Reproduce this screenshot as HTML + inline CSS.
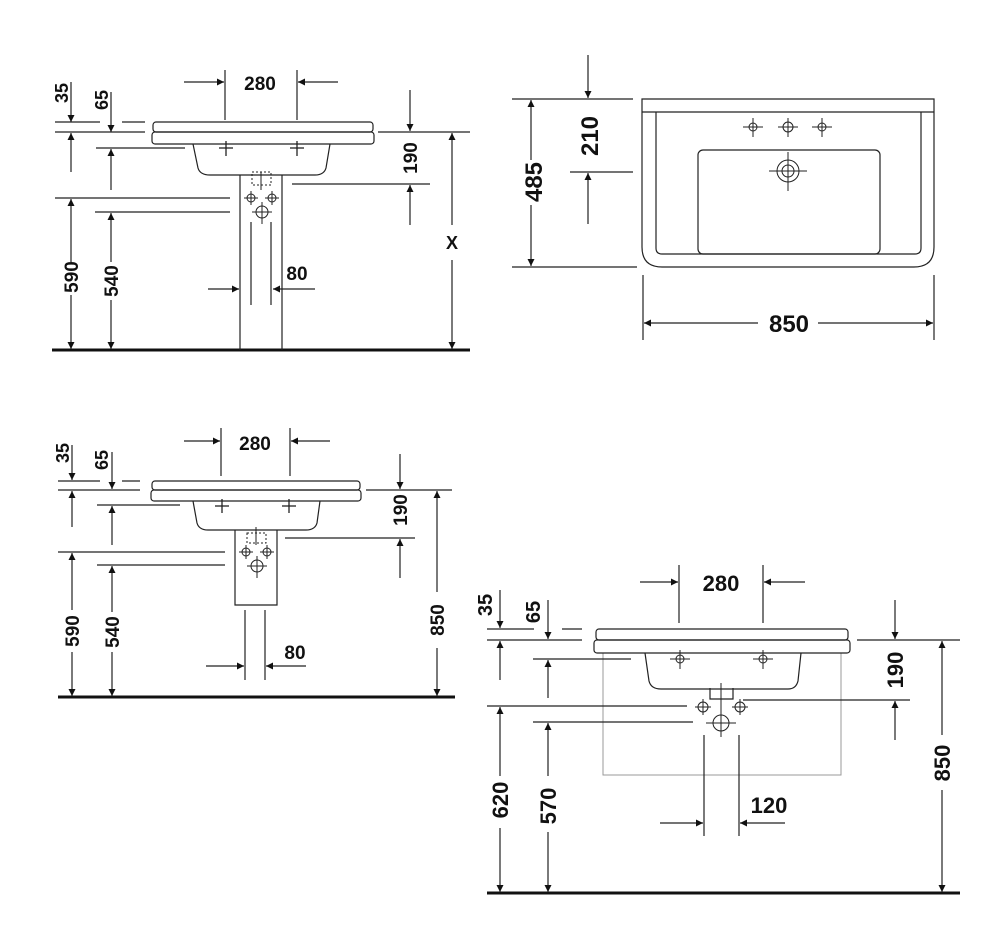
<!DOCTYPE html>
<html><head><meta charset="utf-8"><style>
html,body{margin:0;padding:0;background:#fff;}
svg{display:block}
text{font-family:"Liberation Sans",Arial,sans-serif;font-weight:bold;fill:#111;}
</style></head><body>
<svg width="1000" height="940" viewBox="0 0 1000 940" xmlns="http://www.w3.org/2000/svg">
<defs>
<marker id="a" viewBox="0 0 10 10" refX="10" refY="5" markerWidth="10" markerHeight="7" markerUnits="userSpaceOnUse" orient="auto-start-reverse">
<path d="M0,0 L10,5 L0,10 z" fill="#111"/></marker>
</defs>
<g stroke="#222" stroke-width="1.2" fill="none">

<!-- ===== VIEW 1 ===== -->
<line x1="52" y1="350" x2="470" y2="350" stroke="#111" stroke-width="3"/>
<rect x="153" y="122" width="220" height="10" rx="3"/>
<rect x="152" y="132" width="222" height="12" rx="3"/>
<path d="M193,144 L198,168 Q200,175 210,175 L315,175 Q324,175 326,168 L330,144"/>
<line x1="240" y1="175" x2="240" y2="350"/><line x1="282" y1="175" x2="282" y2="350"/>
<rect x="252" y="172" width="19" height="13" stroke-dasharray="2,2" stroke-width="1"/>
<line x1="261" y1="172" x2="261" y2="190" stroke-width="1"/>
<g stroke-width="1"><circle cx="251" cy="198" r="4"/><line x1="244" y1="198" x2="258" y2="198"/><line x1="251" y1="191" x2="251" y2="205"/>
<circle cx="272" cy="198" r="4"/><line x1="265" y1="198" x2="279" y2="198"/><line x1="272" y1="191" x2="272" y2="205"/>
<circle cx="262" cy="212" r="6"/><line x1="252" y1="212" x2="272" y2="212"/><line x1="262" y1="202" x2="262" y2="224"/></g>
<line x1="251" y1="222" x2="251" y2="305"/><line x1="271" y1="222" x2="271" y2="305"/>
<g stroke-width="1.3"><line x1="219" y1="148" x2="233" y2="148"/><line x1="226" y1="141" x2="226" y2="156"/>
<line x1="290" y1="148" x2="304" y2="148"/><line x1="297" y1="141" x2="297" y2="156"/></g>
<!-- dims -->
<line x1="225" y1="70" x2="225" y2="120"/><line x1="297" y1="70" x2="297" y2="120"/>
<line x1="184" y1="82" x2="224" y2="82" marker-end="url(#a)"/><line x1="338" y1="82" x2="298" y2="82" marker-end="url(#a)"/>
<line x1="55" y1="122" x2="100" y2="122"/><line x1="122" y1="122" x2="145" y2="122"/>
<line x1="55" y1="132" x2="145" y2="132"/>
<line x1="71" y1="82" x2="71" y2="122" marker-end="url(#a)"/>
<line x1="111" y1="92" x2="111" y2="132" marker-end="url(#a)"/>
<line x1="71" y1="172" x2="71" y2="133" marker-end="url(#a)"/>
<line x1="96" y1="148" x2="185" y2="148"/>
<line x1="111" y1="190" x2="111" y2="149" marker-end="url(#a)"/>
<line x1="55" y1="198" x2="230" y2="198"/><line x1="95" y1="212" x2="230" y2="212"/>
<line x1="71" y1="262" x2="71" y2="199" marker-end="url(#a)"/><line x1="71" y1="295" x2="71" y2="349" marker-end="url(#a)"/>
<line x1="111" y1="262" x2="111" y2="213" marker-end="url(#a)"/><line x1="111" y1="300" x2="111" y2="349" marker-end="url(#a)"/>
<line x1="378" y1="132" x2="470" y2="132"/>
<line x1="410" y1="90" x2="410" y2="131" marker-end="url(#a)"/>
<line x1="292" y1="184" x2="430" y2="184"/>
<line x1="410" y1="225" x2="410" y2="185" marker-end="url(#a)"/>
<line x1="452" y1="225" x2="452" y2="133" marker-end="url(#a)"/><line x1="452" y1="260" x2="452" y2="349" marker-end="url(#a)"/>
<line x1="208" y1="289" x2="239" y2="289" marker-end="url(#a)"/><line x1="315" y1="289" x2="273" y2="289" marker-end="url(#a)"/>

<!-- ===== VIEW 2 ===== -->
<path d="M642,99 L934,99 L934,247 Q934,267 914,267 L662,267 Q642,267 642,247 Z"/>
<line x1="642" y1="112" x2="934" y2="112"/>
<path d="M656,112 L656,248 Q656,254 662,254 L915,254 Q921,254 921,248 L921,112"/>
<rect x="698" y="150" width="182" height="104" rx="5"/>
<g stroke-width="1">
<circle cx="753" cy="127" r="4"/><line x1="743" y1="127" x2="763" y2="127"/><line x1="753" y1="118" x2="753" y2="137"/>
<circle cx="788" cy="127" r="5"/><line x1="778" y1="127" x2="798" y2="127"/><line x1="788" y1="118" x2="788" y2="137"/>
<circle cx="822" cy="127" r="4"/><line x1="812" y1="127" x2="832" y2="127"/><line x1="822" y1="118" x2="822" y2="137"/>
<circle cx="788" cy="171" r="11"/><circle cx="788" cy="171" r="6"/><line x1="769" y1="171" x2="807" y2="171"/><line x1="788" y1="152" x2="788" y2="191"/></g>
<line x1="512" y1="99" x2="633" y2="99"/><line x1="512" y1="267" x2="637" y2="267"/>
<line x1="531" y1="160" x2="531" y2="100" marker-end="url(#a)"/><line x1="531" y1="205" x2="531" y2="266" marker-end="url(#a)"/>
<line x1="588" y1="55" x2="588" y2="98" marker-end="url(#a)"/>
<line x1="570" y1="172" x2="633" y2="172"/>
<line x1="588" y1="224" x2="588" y2="173" marker-end="url(#a)"/>
<line x1="643" y1="275" x2="643" y2="340"/><line x1="934" y1="275" x2="934" y2="340"/>
<line x1="758" y1="323" x2="644" y2="323" marker-end="url(#a)"/><line x1="818" y1="323" x2="933" y2="323" marker-end="url(#a)"/>

<!-- ===== VIEW 3 ===== -->
<line x1="58" y1="697" x2="455" y2="697" stroke="#111" stroke-width="3"/>
<rect x="152" y="481" width="208" height="9" rx="3"/>
<rect x="151" y="490" width="210" height="11" rx="3"/>
<path d="M193,501 L197,523 Q199,530 208,530 L306,530 Q315,530 317,523 L320,501"/>
<path d="M235,530 L235,605 L277,605 L277,530"/>
<rect x="247" y="533" width="19" height="10" stroke-dasharray="2,2" stroke-width="1"/>
<line x1="256" y1="527" x2="256" y2="545" stroke-width="1"/>
<g stroke-width="1"><circle cx="246" cy="552" r="4"/><line x1="239" y1="552" x2="253" y2="552"/><line x1="246" y1="545" x2="246" y2="559"/>
<circle cx="267" cy="552" r="4"/><line x1="260" y1="552" x2="274" y2="552"/><line x1="267" y1="545" x2="267" y2="559"/>
<circle cx="257" cy="566" r="6"/><line x1="247" y1="566" x2="267" y2="566"/><line x1="257" y1="556" x2="257" y2="578"/></g>
<g stroke-width="1.3"><line x1="215" y1="506" x2="229" y2="506"/><line x1="222" y1="499" x2="222" y2="513"/>
<line x1="282" y1="506" x2="296" y2="506"/><line x1="289" y1="499" x2="289" y2="513"/></g>
<line x1="245" y1="610" x2="245" y2="680"/><line x1="265" y1="610" x2="265" y2="680"/>
<line x1="221" y1="428" x2="221" y2="476"/><line x1="290" y1="428" x2="290" y2="476"/>
<line x1="184" y1="441" x2="220" y2="441" marker-end="url(#a)"/><line x1="330" y1="441" x2="291" y2="441" marker-end="url(#a)"/>
<line x1="58" y1="481" x2="100" y2="481"/><line x1="122" y1="481" x2="140" y2="481"/>
<line x1="58" y1="490" x2="140" y2="490"/>
<line x1="72" y1="445" x2="72" y2="480" marker-end="url(#a)"/>
<line x1="112" y1="452" x2="112" y2="489" marker-end="url(#a)"/>
<line x1="72" y1="527" x2="72" y2="491" marker-end="url(#a)"/>
<line x1="97" y1="505" x2="180" y2="505"/>
<line x1="112" y1="545" x2="112" y2="506" marker-end="url(#a)"/>
<line x1="58" y1="552" x2="225" y2="552"/><line x1="97" y1="565" x2="225" y2="565"/>
<line x1="72" y1="610" x2="72" y2="553" marker-end="url(#a)"/><line x1="72" y1="652" x2="72" y2="696" marker-end="url(#a)"/>
<line x1="112" y1="612" x2="112" y2="566" marker-end="url(#a)"/><line x1="112" y1="652" x2="112" y2="696" marker-end="url(#a)"/>
<line x1="366" y1="490" x2="452" y2="490"/>
<line x1="400" y1="454" x2="400" y2="489" marker-end="url(#a)"/>
<line x1="285" y1="538" x2="415" y2="538"/>
<line x1="400" y1="578" x2="400" y2="539" marker-end="url(#a)"/>
<line x1="437" y1="592" x2="437" y2="491" marker-end="url(#a)"/><line x1="437" y1="648" x2="437" y2="696" marker-end="url(#a)"/>
<line x1="206" y1="666" x2="244" y2="666" marker-end="url(#a)"/><line x1="306" y1="666" x2="266" y2="666" marker-end="url(#a)"/>

<!-- ===== VIEW 4 ===== -->
<line x1="487" y1="893" x2="960" y2="893" stroke="#111" stroke-width="3"/>
<rect x="603" y="653" width="238" height="122" stroke="#999" stroke-width="1"/>
<rect x="596" y="629" width="252" height="11" rx="3"/>
<rect x="594" y="640" width="256" height="13" rx="3"/>
<path d="M645,653 L649,681 Q651,689 661,689 L788,689 Q796,689 798,681 L801,653"/>
<path d="M710,688 L710,699 L733,699 L733,688"/>
<line x1="721" y1="683" x2="721" y2="737" stroke-width="1"/>
<g stroke-width="1"><circle cx="703" cy="707" r="5"/><line x1="695" y1="707" x2="711" y2="707"/><line x1="703" y1="699" x2="703" y2="715"/>
<circle cx="740" cy="707" r="5"/><line x1="732" y1="707" x2="748" y2="707"/><line x1="740" y1="699" x2="740" y2="715"/>
<circle cx="721" cy="723" r="8"/><line x1="706" y1="723" x2="736" y2="723"/>
<circle cx="680" cy="659" r="4"/><line x1="670" y1="659" x2="690" y2="659"/><line x1="680" y1="650" x2="680" y2="669"/>
<circle cx="763" cy="659" r="4"/><line x1="753" y1="659" x2="773" y2="659"/><line x1="763" y1="650" x2="763" y2="669"/></g>
<line x1="704" y1="735" x2="704" y2="836"/><line x1="739" y1="735" x2="739" y2="836"/>
<line x1="679" y1="565" x2="679" y2="623"/><line x1="763" y1="565" x2="763" y2="623"/>
<line x1="640" y1="582" x2="678" y2="582" marker-end="url(#a)"/><line x1="805" y1="582" x2="764" y2="582" marker-end="url(#a)"/>
<line x1="487" y1="629" x2="534" y2="629"/><line x1="562" y1="629" x2="582" y2="629"/>
<line x1="487" y1="640" x2="582" y2="640"/>
<line x1="500" y1="590" x2="500" y2="628" marker-end="url(#a)"/>
<line x1="548" y1="600" x2="548" y2="639" marker-end="url(#a)"/>
<line x1="500" y1="680" x2="500" y2="641" marker-end="url(#a)"/>
<line x1="533" y1="659" x2="631" y2="659"/>
<line x1="548" y1="698" x2="548" y2="660" marker-end="url(#a)"/>
<line x1="487" y1="706" x2="687" y2="706"/><line x1="533" y1="722" x2="693" y2="722"/>
<line x1="500" y1="776" x2="500" y2="707" marker-end="url(#a)"/><line x1="500" y1="828" x2="500" y2="892" marker-end="url(#a)"/>
<line x1="548" y1="776" x2="548" y2="723" marker-end="url(#a)"/><line x1="548" y1="832" x2="548" y2="892" marker-end="url(#a)"/>
<line x1="857" y1="640" x2="960" y2="640"/>
<line x1="895" y1="600" x2="895" y2="639" marker-end="url(#a)"/>
<line x1="743" y1="700" x2="910" y2="700"/>
<line x1="895" y1="740" x2="895" y2="701" marker-end="url(#a)"/>
<line x1="942" y1="735" x2="942" y2="641" marker-end="url(#a)"/><line x1="942" y1="790" x2="942" y2="892" marker-end="url(#a)"/>
<line x1="660" y1="823" x2="703" y2="823" marker-end="url(#a)"/><line x1="785" y1="823" x2="740" y2="823" marker-end="url(#a)"/>
</g>

<!-- TEXT -->
<g font-size="19">
<text x="260" y="90" text-anchor="middle">280</text>
<text x="297" y="280" text-anchor="middle">80</text>
<text x="452" y="249" text-anchor="middle" font-size="18">X</text>
<text transform="translate(68,93) rotate(-90)" text-anchor="middle" font-size="18">35</text>
<text transform="translate(108,100) rotate(-90)" text-anchor="middle" font-size="18">65</text>
<text transform="translate(78,277) rotate(-90)" text-anchor="middle">590</text>
<text transform="translate(118,281) rotate(-90)" text-anchor="middle">540</text>
<text transform="translate(417,158) rotate(-90)" text-anchor="middle">190</text>

<text x="789" y="332" text-anchor="middle" font-size="24">850</text>
<text transform="translate(542,182) rotate(-90)" text-anchor="middle" font-size="24">485</text>
<text transform="translate(598,136) rotate(-90)" text-anchor="middle" font-size="24">210</text>

<text x="255" y="450" text-anchor="middle">280</text>
<text x="295" y="659" text-anchor="middle">80</text>
<text transform="translate(69,453) rotate(-90)" text-anchor="middle" font-size="18">35</text>
<text transform="translate(108,460) rotate(-90)" text-anchor="middle" font-size="18">65</text>
<text transform="translate(79,631) rotate(-90)" text-anchor="middle">590</text>
<text transform="translate(119,632) rotate(-90)" text-anchor="middle">540</text>
<text transform="translate(407,510) rotate(-90)" text-anchor="middle">190</text>
<text transform="translate(444,620) rotate(-90)" text-anchor="middle">850</text>

<text x="721" y="591" text-anchor="middle" font-size="22">280</text>
<text x="769" y="813" text-anchor="middle" font-size="22">120</text>
<text transform="translate(492,605) rotate(-90)" text-anchor="middle" font-size="20">35</text>
<text transform="translate(540,612) rotate(-90)" text-anchor="middle" font-size="20">65</text>
<text transform="translate(508,800) rotate(-90)" text-anchor="middle" font-size="22">620</text>
<text transform="translate(556,806) rotate(-90)" text-anchor="middle" font-size="22">570</text>
<text transform="translate(903,670) rotate(-90)" text-anchor="middle" font-size="22">190</text>
<text transform="translate(950,763) rotate(-90)" text-anchor="middle" font-size="22">850</text>
</g>
</svg>
</body></html>
